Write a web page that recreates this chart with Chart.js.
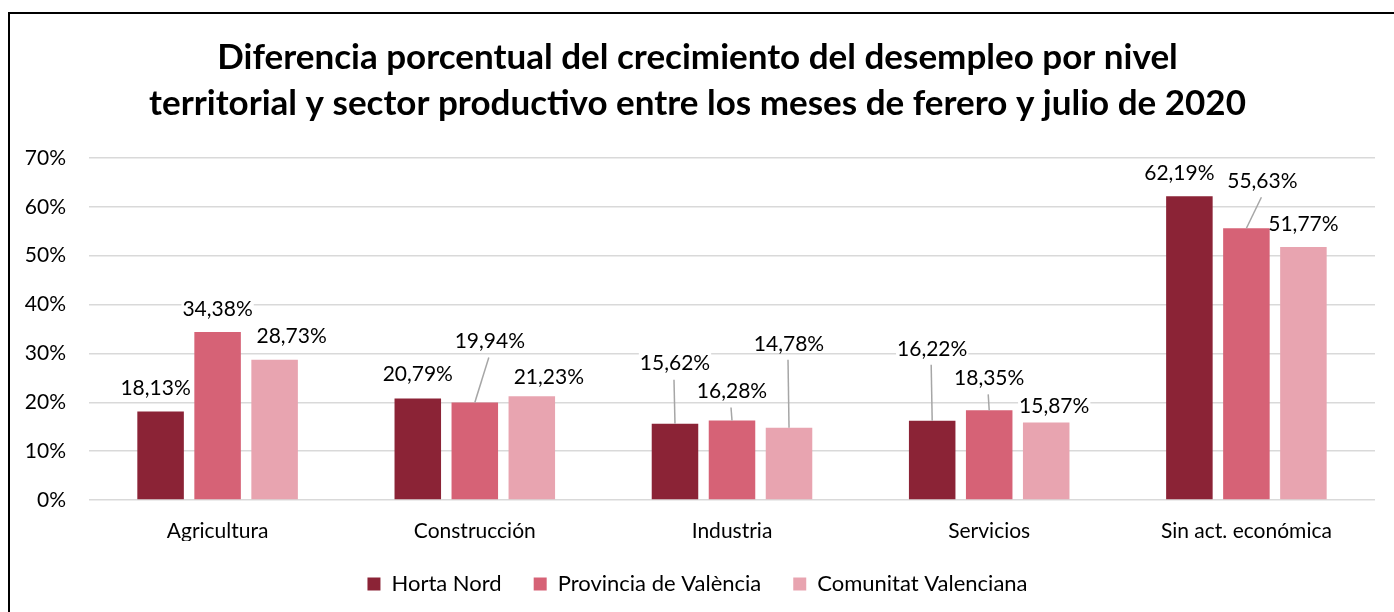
<!DOCTYPE html>
<html>
<head>
<meta charset="utf-8">
<title>Diferencia porcentual del crecimiento del desempleo</title>
<script src="https://cdn.jsdelivr.net/npm/chart.js@4.4.1/dist/chart.umd.min.js"></script>
<style>
  html, body { margin: 0; padding: 0; background: #fff; overflow: hidden; }
  #wrap { position: relative; width: 1394px; height: 612px; }
</style>
</head>
<body>
<div id="wrap"><canvas id="chart" width="1394" height="612"></canvas></div>
<script>
// --- data ---
const CATEGORIES = ['Agricultura', 'Construcción', 'Industria', 'Servicios', 'Sin act. económica'];
const HORTA_NORD = [18.13, 20.79, 15.62, 16.22, 62.19];
const PROVINCIA  = [34.38, 19.94, 16.28, 18.35, 55.63];
const COMUNITAT  = [28.73, 21.23, 14.78, 15.87, 51.77];
const SERIES     = ['Horta Nord', 'Provincia de València', 'Comunitat Valenciana'];
const Y_MIN = 0, Y_MAX = 70, Y_STEP = 10;
const TITLE = [
  'Diferencia porcentual del crecimiento del desempleo por nivel',
  'territorial y sector productivo entre los meses de ferero y julio de 2020'
];

// --- style ---
const COLORS = ['#8B2336', '#D66276', '#E8A4B0'];
const FONT   = 'Lato';
const TEXT   = '#000';

// label placement relative to the bar top: [dx, dy, leader line]
const LABEL_OFFSETS = [
  [[-5, -24, 0], [0, -25, 0], [0, -61, 1], [0, -73, 1], [-10, -24, 0]],
  [[0, -24, 0], [15, -62, 1], [0, -30, 1], [0, -33, 1], [16, -48, 1]],
  [[17, -24, 0], [17, -20, 0], [0, -85, 1], [8, -17, 0], [0, -24, 0]]
];

function fmt(v) { return v.toFixed(2).replace('.', ',') + '%'; }

function labelSpots(chart, cb) {
  chart.data.datasets.forEach(function (ds, di) {
    const meta = chart.getDatasetMeta(di);
    meta.data.forEach(function (bar, i) {
      const off = LABEL_OFFSETS[di][i];
      cb(ds.data[i], bar, bar.x + off[0], bar.y + off[1], off[2]);
    });
  });
}

const valueLabels = {
  id: 'valueLabels',
  beforeDatasetsDraw(chart) {
    const ctx = chart.ctx;
    ctx.save();
    ctx.font = '21px ' + FONT;
    ctx.fillStyle = '#fff';
    labelSpots(chart, function (v, bar, x, y) {
      const w = ctx.measureText(fmt(v)).width;
      ctx.fillRect(x - w / 2 - 1, y - 10, w + 2, 20);
    });
    ctx.restore();
  },
  afterDatasetsDraw(chart) {
    const ctx = chart.ctx;
    ctx.save();
    ctx.font = '21px ' + FONT;
    ctx.textAlign = 'center';
    ctx.textBaseline = 'middle';
    labelSpots(chart, function (v, bar, x, y, leader) {
      if (leader) {
        ctx.strokeStyle = '#a6a6a6';
        ctx.lineWidth = 1.5;
        ctx.beginPath();
        ctx.moveTo(bar.x, bar.y);
        ctx.lineTo(x - 1, y + 17);
        ctx.stroke();
      }
      ctx.fillStyle = TEXT;
      ctx.fillText(fmt(v), x, y + 1);
    });
    ctx.restore();
  }
};

const frame = {
  id: 'frame',
  afterDraw(chart) {
    const ctx = chart.ctx;
    ctx.save();
    ctx.strokeStyle = '#000';
    ctx.lineWidth = 2;
    ctx.beginPath();
    ctx.moveTo(9, 612);
    ctx.lineTo(9, 13);
    ctx.lineTo(1394, 13);
    ctx.stroke();
    ctx.restore();
  }
};

new Chart(document.getElementById('chart'), {
  type: 'bar',
  data: {
    labels: CATEGORIES,
    datasets: [HORTA_NORD, PROVINCIA, COMUNITAT].map(function (vals, i) {
      return {
        label: SERIES[i],
        data: vals,
        backgroundColor: COLORS[i],
        borderWidth: 0,
        categoryPercentage: 0.665,
        barPercentage: 0.816
      };
    })
  },
  options: {
    responsive: false,
    animation: false,
    devicePixelRatio: 1,
    layout: { padding: { left: 20, right: 19, top: 0, bottom: 7 } },
    plugins: {
      title: {
        display: true,
        text: TITLE,
        color: TEXT,
        font: { family: FONT, size: 35, weight: 'bold', lineHeight: 1.3 },
        padding: { top: 35, bottom: 32 }
      },
      legend: {
        position: 'bottom',
        labels: {
          color: TEXT,
          font: { family: FONT, size: 22 },
          boxWidth: 13,
          boxHeight: 13,
          padding: 32
        }
      },
      tooltip: { enabled: false }
    },
    scales: {
      x: {
        grid: { display: false },
        border: { display: false },
        ticks: { color: TEXT, font: { family: FONT, size: 21 }, padding: 11 },
        afterFit: function (s) { s.height = 41; }
      },
      y: {
        min: Y_MIN,
        max: Y_MAX,
        border: { display: false },
        grid: { color: '#d9d9d9', lineWidth: 1.5, drawTicks: false },
        ticks: {
          stepSize: Y_STEP,
          color: TEXT,
          font: { family: FONT, size: 21 },
          padding: 23,
          callback: function (v) { return v + '%'; }
        },
        afterFit: function (s) { s.width = 69; }
      }
    }
  },
  plugins: [valueLabels, frame]
});
</script>
</body>
</html>
